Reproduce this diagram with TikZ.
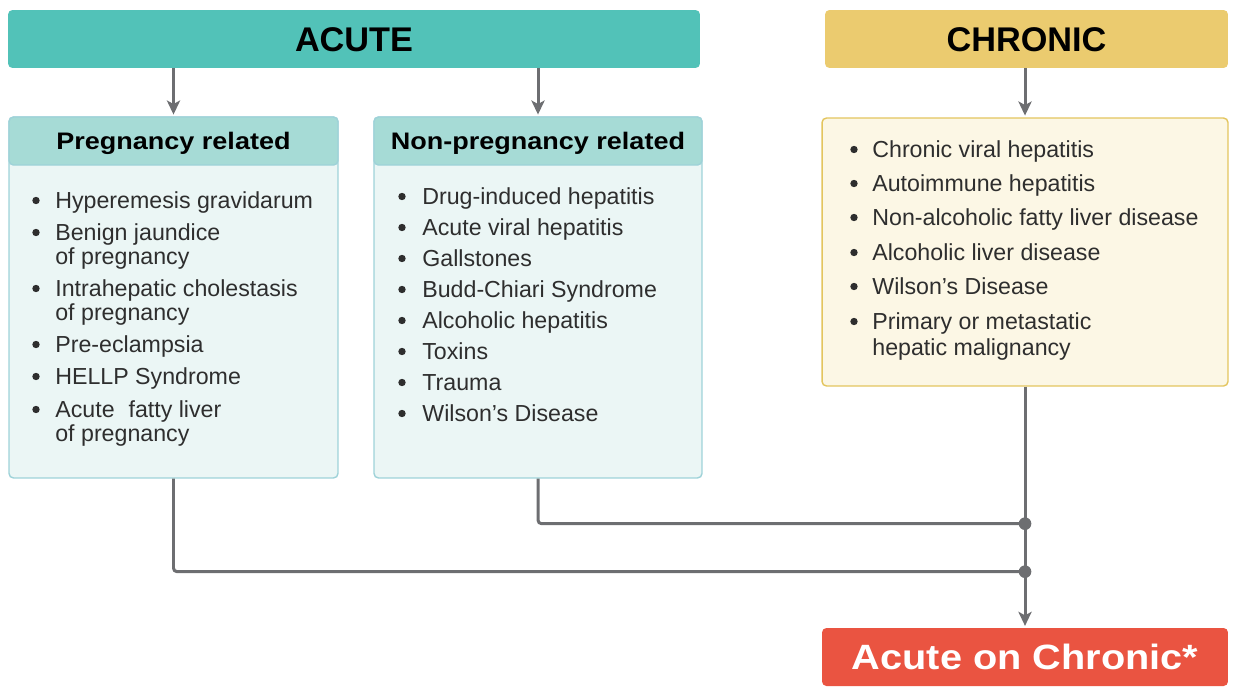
\documentclass[tikz,border=0pt]{standalone}
\usepackage{fontspec}
\setmainfont{Liberation Sans}
\newfontfamily\widebold[FakeStretch=1.13]{Liberation Sans}
\usetikzlibrary{arrows.meta, calc}

\definecolor{acutefill}{HTML}{52C2B8}
\definecolor{chronfill}{HTML}{EBCB6F}
\definecolor{headfill}{HTML}{A6DBD6}
\definecolor{bodyfill}{HTML}{EBF6F5}
\definecolor{bodyline}{HTML}{9ED2D8}
\definecolor{chronbody}{HTML}{FCF7E5}
\definecolor{chronline}{HTML}{E3C55E}
\definecolor{aocfill}{HTML}{EA5441}
\definecolor{linegray}{HTML}{6D6E71}
\definecolor{textgray}{HTML}{2E2E2E}

\begin{document}
\begin{tikzpicture}[x=0.02cm, y=-0.02cm,
    titlebox/.style={rounded corners=2.5pt, inner sep=0pt, minimum height=1.16cm,
        text height=16pt, text depth=2pt,
        font=\fontsize{19.5}{22}\selectfont\bfseries, text=black},
    listbox/.style={rounded corners=2.5pt, inner sep=0pt, line width=0.8pt},
    headbox/.style={rounded corners=2.5pt, inner sep=0pt, minimum height=0.96cm,
        fill=headfill, draw=bodyline, line width=0.8pt,
        text height=11.8pt, text depth=2pt,
        font=\widebold\fontsize{13.6}{16}\selectfont\bfseries, text=black},
    item/.style={anchor=base west, inner sep=0pt, text=textgray,
        font=\fontsize{13.2}{16}\selectfont},
    conn/.style={draw=linegray, line width=1.7pt},
    arrow/.style={conn, -{Stealth[length=8pt, width=7.5pt, inset=2pt]}, shorten >=1pt}]

    \useasboundingbox (0,0) rectangle (1233,686);

    % Top level boxes
    \node[titlebox, fill=acutefill, minimum width=13.84cm] (acute) at (354,39) {ACUTE};
    \node[titlebox, fill=chronfill, minimum width=8.06cm] (chronic) at (1026.5,39) {CHRONIC};

    % Acute: pregnancy related
    \node[listbox, fill=bodyfill, draw=bodyline, minimum width=6.58cm, minimum height=7.22cm] (preg) at (173.5,297.5) {};
    \node[headbox, anchor=north, minimum width=6.58cm] (preghead) at (preg.north) {Pregnancy related};
    \foreach \y/\t [count=\i] in {208/Hyperemesis gravidarum, 240/Benign jaundice,
        296/Intrahepatic cholestasis, 352/Pre-eclampsia, 384/HELLP Syndrome,
        417/Acute\hspace{0.6em}fatty liver} {
        \fill[textgray] (36,\y-7.5) circle[radius=2.1pt];
        \node[item] (p\i) at (55,\y) {\t};
    }
    \node[item] (p2b) at (55,264) {of pregnancy};
    \node[item] (p3b) at (55,320) {of pregnancy};
    \node[item] (p6b) at (55,441) {of pregnancy};

    % Acute: non-pregnancy related
    \node[listbox, fill=bodyfill, draw=bodyline, minimum width=6.56cm, minimum height=7.22cm] (nonpreg) at (538,297.5) {};
    \node[headbox, anchor=north, minimum width=6.56cm] (nonpreghead) at (nonpreg.north) {Non-pregnancy related};
    \foreach \y/\t [count=\i] in {204/Drug-induced hepatitis, 235/Acute viral hepatitis,
        266/Gallstones, 297/Budd-Chiari Syndrome, 328/Alcoholic hepatitis,
        359/Toxins, 390/Trauma, 421/Wilson’s Disease} {
        \fill[textgray] (402,\y-7.5) circle[radius=2.1pt];
        \node[item] (n\i) at (422,\y) {\t};
    }

    % Chronic list
    \node[listbox, fill=chronbody, draw=chronline, minimum width=8.12cm, minimum height=5.36cm] (list) at (1025,252) {};
    \foreach \y/\t [count=\i] in {157/Chronic viral hepatitis, 191/Autoimmune hepatitis,
        225/Non-alcoholic fatty liver disease, 260/Alcoholic liver disease,
        294/Wilson’s Disease, 329/Primary or metastatic} {
        \fill[textgray] (854,\y-7.5) circle[radius=2.1pt];
        \node[item] (c\i) at (872,\y) {\t};
    }
    \node[item] (c6b) at (872,355) {hepatic malignancy};

    % Result
    \node[titlebox, fill=aocfill, minimum width=8.12cm, text=white,
        text height=16.3pt, text depth=2pt,
        font=\widebold\fontsize{20}{24}\selectfont\bfseries] (aoc) at (1025,657) {Acute on Chronic*};

    % Connectors
    \draw[arrow] (acute.south -| preghead.north) -- (preghead.north);
    \draw[arrow] (acute.south -| nonpreghead.north) -- (nonpreghead.north);
    \draw[arrow] (chronic.south -| list.north) -- (list.north);

    \path (list.south) ++(0,137) coordinate (jA) ++(0,48) coordinate (jB);
    \draw[conn, rounded corners=2pt] (nonpreg.south) |- (jA);
    \draw[conn, rounded corners=2pt] (preg.south) |- (jB);
    \draw[arrow] (list.south) -- (aoc.north);
    \fill[linegray] (jA) circle[radius=3.6pt];
    \fill[linegray] (jB) circle[radius=3.6pt];
\end{tikzpicture}
\end{document}
